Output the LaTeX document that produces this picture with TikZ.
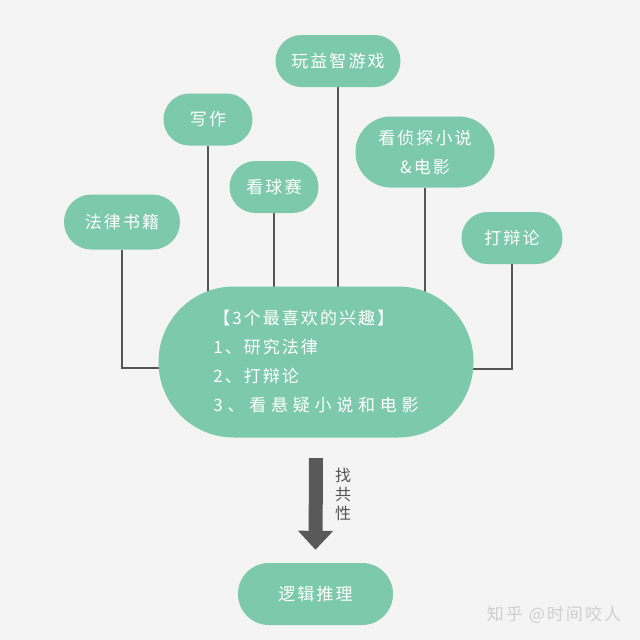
\documentclass[tikz,border=0pt]{standalone}
\usepackage{fontspec}
\setmainfont{Noto Sans CJK SC}[LetterSpace=12]
\newfontfamily\widecjk{Noto Sans CJK SC}[LetterSpace=28]
\usetikzlibrary{backgrounds,arrows.meta}
\definecolor{mint}{HTML}{7DC9AD}
\definecolor{bgc}{HTML}{F4F4F4}
\definecolor{wire}{HTML}{555555}
\definecolor{arrowc}{HTML}{595959}
\definecolor{markc}{HTML}{CFCFCF}
\tikzset{
  bubble/.style={fill=mint, text=white, inner sep=0pt, align=center,
    font=\fontsize{17pt}{29pt}\selectfont},
  link/.style={draw=wire, line width=1.4pt},
}
\begin{document}
\begin{tikzpicture}[x=1pt,y=-1pt]
\node[bubble, minimum width=125pt, minimum height=52pt, rounded corners=25.9pt] (game) at (338,61) {玩益智游戏};
\node[bubble, minimum width=89pt, minimum height=52pt, rounded corners=25.9pt] (write) at (208,119.5) {写作};
\node[bubble, minimum width=89pt, minimum height=52pt, rounded corners=25.9pt] (ball) at (274,187) {看球赛};
\node[bubble, minimum width=139pt, minimum height=71pt, rounded corners=35.4pt] (detect) at (425,152) {看侦探小说\\\&电影};
\node[bubble, minimum width=116pt, minimum height=55pt, rounded corners=27.4pt] (law) at (122,222) {法律书籍};
\node[bubble, minimum width=101pt, minimum height=52pt, rounded corners=25.9pt] (debate) at (512,238) {打辩论};
\node[bubble, align=left, minimum width=315pt, minimum height=151pt, rounded corners=75.4pt] (center) at (316,362)
  {【3个最喜欢的兴趣】\\1、研究法律\\2、打辩论\\{\widecjk 3、看悬疑小说和电影}};
\node[bubble, minimum width=155pt, minimum height=62pt, rounded corners=30.9pt] (logic) at (315.5,594) {逻辑推理};
\draw[arrowc, line width=14pt, -{Triangle[width=34pt,length=19pt]}]
  ([yshift=-20.5pt]center.south) -- ([yshift=13pt]logic.north);
\node[text=wire, align=center, inner sep=0pt, font=\fontsize{16pt}{19pt}\selectfont] (find) at (343,494) {找\\共\\性};
\node[text=markc, inner sep=0pt, font=\fontsize{17pt}{20pt}\selectfont] (mark) at (554,615) {知乎 @时间咬人};
\begin{scope}[on background layer]
  \fill[bgc] (0,0) rectangle (640,640);
  \draw[link] (write) -- (write |- center);
  \draw[link] (ball) -- (ball |- center);
  \draw[link] (game) -- (game |- center);
  \draw[link] (detect) -- (detect |- center);
  \draw[link] (law) |- ([yshift=-6pt]center.center);
  \draw[link] (debate) |- ([yshift=-7pt]center.center);
\end{scope}
\end{tikzpicture}
\end{document}
